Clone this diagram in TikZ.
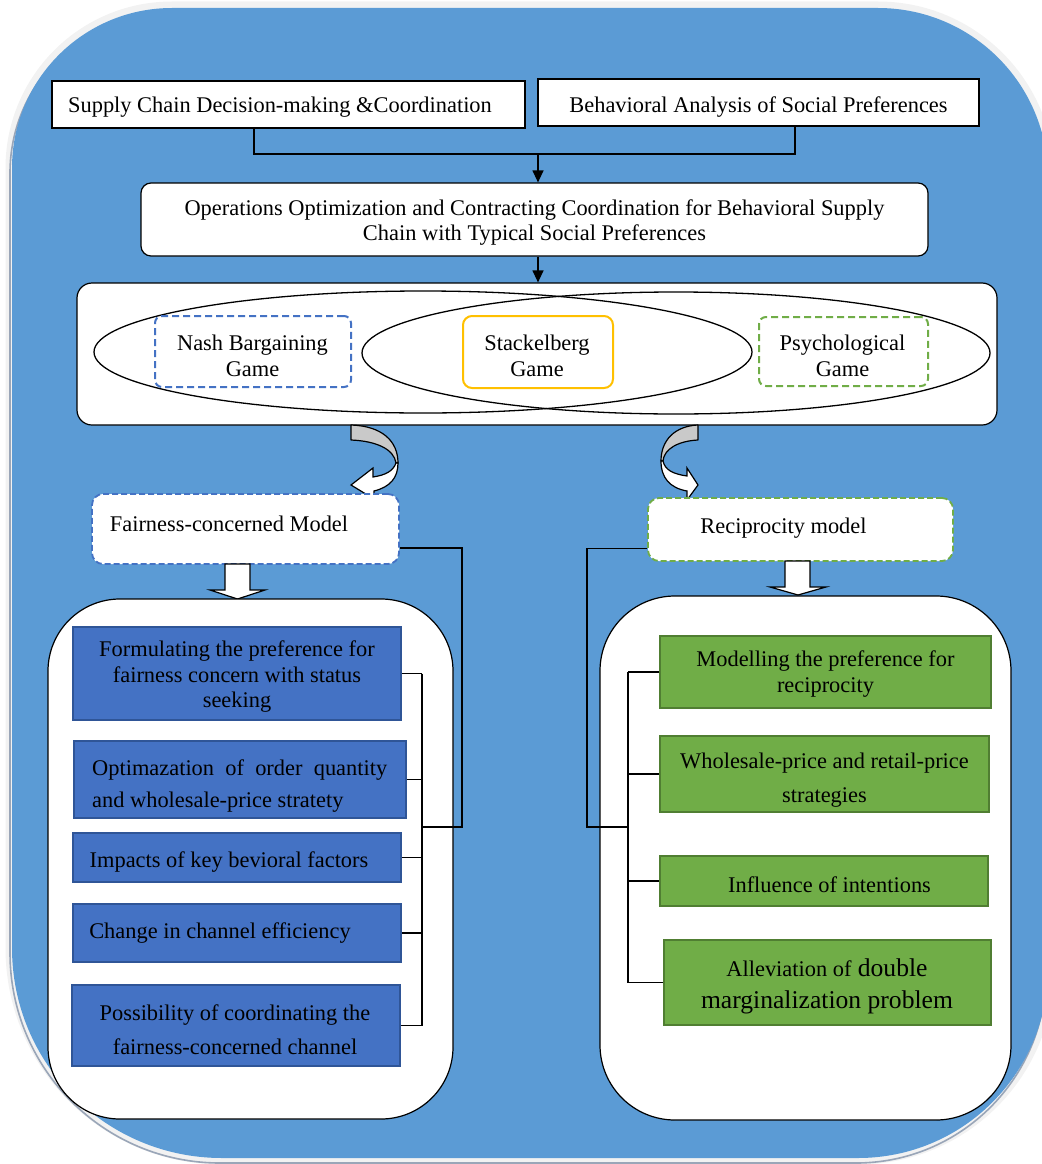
\documentclass[tikz,border=0pt]{standalone}
\usepackage{fontspec}
\setmainfont{Liberation Serif}
\usetikzlibrary{shapes.geometric,arrows.meta,calc}
\definecolor{bgblue}{HTML}{5B9BD5}
\definecolor{itblue}{HTML}{4472C4}
\definecolor{itblueb}{HTML}{2F5597}
\definecolor{itgreen}{HTML}{70AD47}
\definecolor{itgreenb}{HTML}{507E32}
\definecolor{gold}{HTML}{FFC000}
\definecolor{arrgray}{HTML}{C9C9C9}
\definecolor{shadowgray}{HTML}{9AA6B8}
\begin{document}
\begin{tikzpicture}[x=1pt,y=-1pt,
  txt/.style={font=\fontsize{22.4}{26}\selectfont, inner sep=0pt, align=center, text=black},
  whitebox/.style={draw=black, fill=white, line width=1.2pt, inner sep=0pt},
  gamebox/.style={line width=2pt, rounded corners=7pt, inner sep=0pt},
  modelbox/.style={fill=white, line width=1.8pt, dash pattern=on 6pt off 3pt, rounded corners=11pt, inner sep=0pt},
  bluebox/.style={fill=itblue, draw=itblueb, line width=1.5pt, inner sep=0pt},
  greenbox/.style={fill=itgreen, draw=itgreenb, line width=1.5pt, inner sep=0pt},
  conn/.style={draw=black, line width=1.2pt},
  tipped/.style={-{Triangle[length=12pt,width=11pt]}},
  blockarrow/.style={fill=white, draw=black, line width=1.2pt, line join=miter},
]
\useasboundingbox (0,0) rectangle (1041,1164);

% background
\draw[gray!10, line width=13pt] (12,168) .. controls (12,79.6) and (83.6,8) .. (172,8) -- (878,8) .. controls (971.9,8) and (1048,84.1) .. (1048,178) -- (1048,968) .. controls (1048,1072.9) and (962.9,1158) .. (858,1158) -- (222,1158) .. controls (106,1158) and (12,1064) .. (12,948) -- cycle;
\draw[shadowgray, line width=1.6pt, shift={(-2,5)}] (12,168) .. controls (12,79.6) and (83.6,8) .. (172,8) -- (878,8) .. controls (971.9,8) and (1048,84.1) .. (1048,178) -- (1048,968) .. controls (1048,1072.9) and (962.9,1158) .. (858,1158) -- (222,1158) .. controls (106,1158) and (12,1064) .. (12,948) -- cycle;
\fill[bgblue] (12,168) .. controls (12,79.6) and (83.6,8) .. (172,8) -- (878,8) .. controls (971.9,8) and (1048,84.1) .. (1048,178) -- (1048,968) .. controls (1048,1072.9) and (962.9,1158) .. (858,1158) -- (222,1158) .. controls (106,1158) and (12,1064) .. (12,948) -- cycle;

% top boxes
\node[whitebox, minimum width=473pt, minimum height=47pt] (A) at (288.5,104.5) {};
\node[txt] (At) at (280,107) {Supply Chain Decision-making \&Coordination};
\node[whitebox, minimum width=441pt, minimum height=47pt] (B) at (758.5,102.5) {};
\node[txt] (Bt) at (758.5,107) {Behavioral Analysis of Social Preferences};
\node[whitebox, rounded corners=10pt, minimum width=787pt, minimum height=73pt] (C) at (534.5,219.5) {};
\node[txt, font=\fontsize{22.4}{25}\selectfont] (Ct) at (534.5,222.5) {Operations Optimization and Contracting Coordination for Behavioral Supply\\Chain with Typical Social Preferences};

\coordinate (j1) at (538,154);
\draw[conn] ([xshift=-34.5pt]A.south) |- (j1) -| ([xshift=36.5pt]B.south);
\draw[conn, tipped] (j1) -- (j1 |- C.north);

% games box
\node[whitebox, rounded corners=15pt, minimum width=920pt, minimum height=142pt] (D) at (537,354) {};
\draw[conn, tipped] (C.south -| j1) -- (D.north -| j1);
\node[ellipse, draw=black, line width=1.3pt, minimum width=658pt, minimum height=122pt, inner sep=0pt] (E1) at (423,352) {};
\node[ellipse, draw=black, line width=1.3pt, minimum width=628pt, minimum height=122pt, inner sep=0pt] (E2) at (676,353) {};
\node[gamebox, draw=itblue, dash pattern=on 7pt off 4pt, minimum width=196pt, minimum height=71pt] (Nash) at (253,351.5) {};
\node[txt] (Nasht) at (252.5,356) {Nash Bargaining\\Game};
\node[gamebox, draw=gold, fill=white, rounded corners=9pt, minimum width=150pt, minimum height=72pt] (Stack) at (538,352) {};
\node[txt] (Stackt) at (537,356) {Stackelberg\\Game};
\node[gamebox, draw=itgreen, dash pattern=on 7pt off 4pt, minimum width=169pt, minimum height=69pt] (Psy) at (843.5,351.5) {};
\node[txt] (Psyt) at (842.5,356) {Psychological\\Game};

% curved arrows
\filldraw[fill=arrgray, draw=black, line width=1.2pt, line join=round] (351,425) -- (351,440) .. controls (376,441) and (394,449) .. (396,463) -- (398,463) .. controls (398,441) and (382,426) .. (351,425) -- cycle;
\filldraw[fill=white, draw=black, line width=1.2pt, line join=miter] (396,463) .. controls (393,471) and (386,475) .. (373,477) -- (373,468) -- (351,485) -- (374,499) -- (374,491) .. controls (390,487) and (398,478) .. (398,463) -- cycle;
\filldraw[fill=arrgray, draw=black, line width=1.2pt, line join=round] (698,425) -- (698,440) .. controls (678,441) and (664,449) .. (663,461) -- (661,461) .. controls (661,440) and (675,426) .. (698,425) -- cycle;
\filldraw[fill=white, draw=black, line width=1.2pt, line join=miter] (663,461) .. controls (665,470) and (673,474) .. (687,476) -- (687,468) -- (698,485) -- (687,500) -- (687,491) .. controls (670,488) and (661,478) .. (661,461) -- cycle;

% model boxes
\node[modelbox, draw=itblue, minimum width=307pt, minimum height=70pt] (F) at (245.5,529) {};
\node[txt] (Ft) at (229,524) {Fairness-concerned Model};
\node[modelbox, draw=itgreen, minimum width=305pt, minimum height=63pt] (Rm) at (800.5,529.5) {};
\node[txt] (Rmt) at (783.5,528) {Reciprocity model};

% block arrows
\filldraw[blockarrow] (225,564) -- (225,590) -- (210,590) -- (237.5,599) -- (265,590) -- (250,590) -- (250,564) -- cycle;
\filldraw[blockarrow] (785,561) -- (785,587) -- (770,587) -- (798,595) -- (826,587) -- (810,587) -- (810,561) -- cycle;

% big white boxes
\node[whitebox, rounded corners=72pt, minimum width=405pt, minimum height=520pt] (LB) at (250.5,859) {};
\node[whitebox, rounded corners=75pt, minimum width=411pt, minimum height=524pt] (RB) at (805.5,858) {};

% left items
\node[bluebox, minimum width=328pt, minimum height=93pt] (L1) at (237,673.5) {};
\node[txt, font=\fontsize{22.4}{25.5}\selectfont] (L1t) at (237,677) {Formulating the preference for\\fairness concern with status\\seeking};
\node[bluebox, minimum width=332pt, minimum height=77pt] (L2) at (240,779.5) {};
\node[txt, font=\fontsize{22.4}{32}\selectfont, align=left, anchor=west] (L2t) at (92,786) {\makebox[295pt][s]{Optimazation of order quantity}\\and wholesale-price stratety};
\node[bluebox, minimum width=328pt, minimum height=49pt] (L3) at (237,857.5) {};
\node[txt] (L3t) at (229,862) {Impacts of key bevioral factors};
\node[bluebox, minimum width=328pt, minimum height=58pt] (L4) at (237,933) {};
\node[txt] (L4t) at (220,933) {Change in channel efficiency};
\node[bluebox, minimum width=328pt, minimum height=81pt] (L5) at (236,1025.5) {};
\node[txt, font=\fontsize{22.4}{34}\selectfont] (L5t) at (235,1030) {Possibility of coordinating the\\fairness-concerned channel};

% right items
\node[greenbox, minimum width=331pt, minimum height=72pt] (R1) at (825.5,672) {};
\node[txt] (R1t) at (825.5,674) {Modelling the preference for\\reciprocity};
\node[greenbox, minimum width=329pt, minimum height=76pt] (R2) at (824.5,774) {};
\node[txt, font=\fontsize{22.4}{34}\selectfont] (R2t) at (824.5,780) {Wholesale-price and retail-price\\strategies};
\node[greenbox, minimum width=328pt, minimum height=50pt] (R3) at (824,881) {};
\node[txt] (R3t) at (829.5,885) {Influence of intentions};
\node[greenbox, minimum width=327pt, minimum height=85pt] (R4) at (827.5,982.5) {};
\node[txt, font=\fontsize{25.6}{32}\selectfont] (R4t) at (827,986) {{\fontsize{22.4}{32}\selectfont Alleviation of} double\\marginalization problem};

% left bracket
\coordinate (lx) at (422,0);
\foreach \n in {L1,L2,L3,L4,L5} \draw[conn] (\n.east) -- (\n.east -| lx);
\draw[conn] (L1.east -| lx) -- (L5.east -| lx);
\coordinate (fj) at (462,827);
\draw[conn] ([yshift=-19pt]F.east) -| (fj) -- (fj -| lx);

% right bracket
\coordinate (rx) at (628,0);
\foreach \n in {R1,R2,R3,R4} \draw[conn] (\n.west) -- (\n.west -| rx);
\draw[conn] (R1.west -| rx) -- (R4.west -| rx);
\coordinate (rj) at (587,827);
\draw[conn] ([yshift=-19pt]Rm.west) -| (rj) -- (rj -| rx);
\end{tikzpicture}
\end{document}
